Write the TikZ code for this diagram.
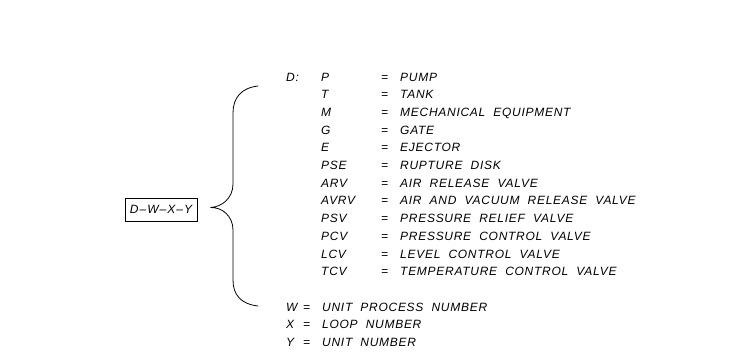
\documentclass[tikz,border=0pt]{standalone}
\usepackage{fontspec}
\setmainfont{Liberation Sans}[LetterSpace=6,WordSpace=2]
\usepackage{tikz}
\usetikzlibrary{positioning, calc}

\begin{document}
\begin{tikzpicture}[
  x=1pt, y=-1pt,
  codebox/.style={draw=black, line width=0.8pt, inner xsep=1pt, inner ysep=0pt, minimum width=72pt, minimum height=23pt, font=\fontsize{12}{14}\selectfont\itshape},
  legend/.style={anchor=base west, inner sep=0pt, align=left, font=\fontsize{12}{17.7}\selectfont\itshape},
  brace/.style={line width=0.8pt, line cap=round},
]
\useasboundingbox (0,0) rectangle (752,360);

\node[codebox] (code) at (161,209.5) {D\kern1pt--\kern1pt W\kern1pt--\kern1pt X\kern1pt--\kern1pt Y};

% list of device letters
\node[legend] (dlist) at (286,81) {%
\begin{tabular}[t]{@{}p{35pt}@{}p{60pt}@{}p{19pt}@{}l@{}}
D: & P & = & PUMP\\
 & T & = & TANK\\
 & M & = & MECHANICAL EQUIPMENT\\
 & G & = & GATE\\
 & E & = & EJECTOR\\
 & PSE & = & RUPTURE DISK\\
 & ARV & = & AIR RELEASE VALVE\\
 & AVRV & = & AIR AND VACUUM RELEASE VALVE\\
 & PSV & = & PRESSURE RELIEF VALVE\\
 & PCV & = & PRESSURE CONTROL VALVE\\
 & LCV & = & LEVEL CONTROL VALVE\\
 & TCV & = & TEMPERATURE CONTROL VALVE
\end{tabular}};

% other parts of the code
\node[legend] (wlist) at (286,311) {%
\begin{tabular}[t]{@{}p{17pt}@{}p{19pt}@{}l@{}}
W & = & UNIT PROCESS NUMBER\\
X & = & LOOP NUMBER\\
Y & = & UNIT NUMBER
\end{tabular}};

\coordinate (tip) at ($(code.east)+(13,-2)$);
\draw[brace] (258,86) .. controls (241,88) and (233,98) .. (233,113)
  -- (233,184) .. controls (233,198) and (222,207) .. (tip)
  .. controls (222,207) and (233,216) .. (233,230)
  -- (233,280) .. controls (233,295) and (241,304) .. (258,306);
\end{tikzpicture}
\end{document}
